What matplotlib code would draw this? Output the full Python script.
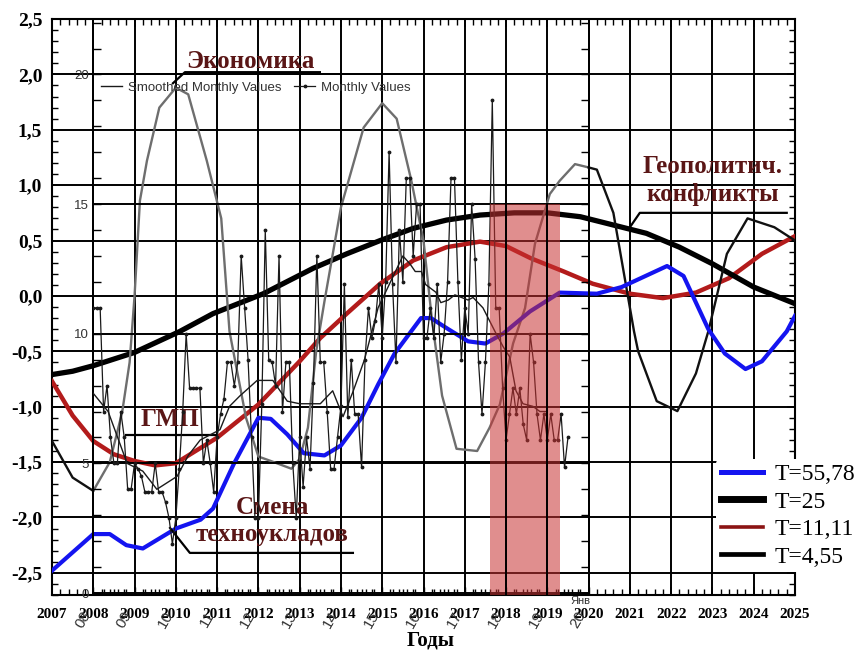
import numpy as np
import matplotlib.pyplot as plt
from matplotlib.lines import Line2D
from matplotlib.ticker import MultipleLocator, FuncFormatter

SERIF = ["Liberation Serif", "DejaVu Serif"]
SANS_N = ["Liberation Sans Narrow", "Liberation Sans", "DejaVu Sans"]
ANN_COLOR = "#5a1616"

# --- Daten: Zyklen (Jahr, Wert) ---
T55_YEARS = [2007.0, 2008.0, 2008.4, 2008.8, 2009.2, 2010.0, 2010.6, 2010.9, 2011.4,
             2012.0, 2012.3, 2012.7, 2013.1, 2013.6, 2014.0, 2014.5, 2014.9, 2015.3,
             2015.94, 2016.18, 2016.6, 2017.08, 2017.5, 2017.93, 2018.58, 2019.3,
             2020.2, 2020.8, 2021.9, 2022.3, 2022.9, 2023.3, 2023.8, 2024.2, 2024.8, 2025.0]
T55_VALUES = [-2.48, -2.15, -2.15, -2.25, -2.28, -2.1, -2.02, -1.92, -1.52,
              -1.1, -1.11, -1.25, -1.42, -1.44, -1.35, -1.1, -0.8, -0.52,
              -0.2, -0.2, -0.3, -0.41, -0.43, -0.34, -0.14, 0.03,
              0.02, 0.08, 0.27, 0.18, -0.3, -0.52, -0.66, -0.59, -0.32, -0.18]

T25_YEARS = [2007.0, 2007.5, 2008.0, 2009.0, 2010.1, 2010.9, 2012.12, 2013.33, 2014.14,
             2014.95, 2015.75, 2016.56, 2017.37, 2018.2, 2019.0, 2019.8, 2020.6, 2021.4,
             2022.2, 2023.0, 2024.0, 2025.0]
T25_VALUES = [-0.71, -0.68, -0.63, -0.51, -0.32, -0.16, 0.02, 0.25, 0.38,
              0.50, 0.61, 0.685, 0.73, 0.75, 0.75, 0.715, 0.64, 0.565,
              0.44, 0.29, 0.08, -0.07]

T11_YEARS = [2007.0, 2007.5, 2008.0, 2008.5, 2009.0, 2009.5, 2010.0, 2011.0, 2012.0,
             2013.0, 2013.5, 2014.14, 2014.95, 2015.75, 2016.56, 2017.37, 2018.0, 2018.6,
             2019.4, 2020.1, 2021.0, 2021.8, 2022.6, 2023.4, 2024.2, 2025.0]
T11_VALUES = [-0.77, -1.08, -1.31, -1.43, -1.49, -1.53, -1.51, -1.28, -0.98,
              -0.59, -0.38, -0.16, 0.11, 0.32, 0.44, 0.49, 0.45, 0.34,
              0.22, 0.11, 0.02, -0.02, 0.03, 0.16, 0.38, 0.54]

T4_YEARS = [2007.0, 2007.5, 2008.0, 2008.4, 2008.7, 2008.88, 2009.0, 2009.13, 2009.3,
            2009.6, 2010.0, 2010.3, 2010.75, 2011.1, 2011.3, 2011.7, 2012.0, 2012.3,
            2012.8, 2013.0, 2013.2, 2013.4, 2013.6, 2014.0, 2014.1, 2014.55, 2015.0,
            2015.35, 2015.7, 2016.0, 2016.2, 2016.45, 2016.8, 2017.3, 2017.6, 2017.85,
            2018.17, 2018.46, 2018.7, 2019.06, 2019.3, 2019.67, 2020.0, 2020.2, 2020.6,
            2021.1, 2021.2, 2021.65, 2022.15, 2022.6, 2022.9, 2023.35, 2023.85, 2024.5,
            2025.0]
T4_VALUES = [-1.31, -1.64, -1.76, -1.5, -1.05, -0.6, 0.0, 0.86, 1.22,
             1.7, 1.88, 1.82, 1.22, 0.7, -0.32, -1.1, -1.45, -1.49,
             -1.56, -1.47, -1.19, -0.5, -0.05, 0.8, 0.93, 1.52, 1.74,
             1.6, 1.05, 0.5, -0.2, -0.9, -1.38, -1.4, -1.19, -0.98,
             -0.43, -0.11, 0.47, 0.92, 1.04, 1.19, 1.16, 1.14, 0.75,
             -0.32, -0.5, -0.95, -1.04, -0.7, -0.32, 0.38, 0.7, 0.62,
             0.5]

LABELS = ["T=55,78", "T=25", "T=11,11", "T=4,55"]

# --- Daten: eingefügter Chart (Monatswerte ab Jan 2008) ---
MONTHLY = [
    11, 11, 11, 7, 8, 6, 5, 5, 7, 6, 4, 4,                       # 2008
    5, 4.8, 4.5, 3.9, 3.9, 3.9, 5, 3.9, 3.9, 3.5, 2.9, 1.9,      # 2009
    2.9, 4.8, 7, 10, 7.9, 7.9, 7.9, 7.9, 5, 5.9, 5, 3.9,         # 2010
    6, 6.9, 7.5, 8.9, 8.9, 8, 8.9, 13, 11, 9, 6, 2.9,            # 2011
    2.9, 7.3, 14, 9, 8.9, 8, 13, 7, 8.9, 8.9, 5, 2.9,            # 2012
    6, 4.1, 6, 4.8, 8.1, 13, 8.9, 8.9, 7, 4.8, 4.8, 6,           # 2013
    7.2, 11.9, 6.8, 9, 6.9, 6.9, 4.85, 9, 11, 9.85, 10.5, 11.9,  # 2014
    9.85, 12, 17, 11.9, 8.9, 14, 12, 16, 16, 13, 15, 15,         # 2015
    9.85, 9.85, 11, 9.85, 11.9, 8.9, 10, 12, 16, 16, 12, 9,      # 2016
    11, 10, 15, 12.9, 8.9, 6.9, 8.9, 11.9, 19, 11, 11, 7.9,      # 2017
    5.9, 6.9, 7.9, 6.9, 7.9, 6.5, 5.9, 10, 8.9, 6.9, 5.9, 6.9,   # 2018
    5.9, 6.9, 5.9, 5.9, 6.9, 4.85, 6,                            # 2019
]
SMOOTH_YEARS = [2008.0, 2008.36, 2008.82, 2009.2, 2009.54, 2010.03, 2010.3, 2010.59,
                2011.07, 2011.3, 2011.55, 2011.97, 2012.35, 2012.7, 2013.0, 2013.5,
                2013.8, 2014.05, 2014.3, 2014.57, 2014.9, 2015.2, 2015.5, 2015.67,
                2015.8, 2015.95, 2016.05, 2016.3, 2016.42, 2016.6, 2016.76, 2017.08,
                2017.2, 2017.44, 2017.76, 2017.93, 2018.09, 2018.24, 2018.41, 2018.65,
                2018.82, 2018.97]
SMOOTH_VALUES = [7.7, 7.0, 5.0, 4.7, 4.0, 4.5, 5.3, 5.9,
                 6.3, 7.2, 7.6, 8.2, 8.2, 7.4, 7.3, 7.3,
                 7.8, 6.8, 7.8, 9.0, 11.0, 12.0, 13.0, 12.7,
                 12.4, 12.4, 11.9, 11.6, 11.2, 11.3, 11.5, 11.3,
                 11.4, 11.0, 10.0, 9.5, 9.1, 7.8, 7.3, 7.2,
                 7.0, 7.0]
CRISIS = (2017.6, 2019.3)   # rosa Zeitraum
CRISIS_TOP = 15             # in Einheiten des eingefügten Charts

YEARS = list(range(2007, 2026))
INNER_YEARS = list(range(2008, 2021))
INNER_TICKLABELS = [f"{y % 100:02d}" for y in INNER_YEARS]

# --- Figur ---
fig = plt.figure(figsize=(8.58, 6.57), dpi=100)
L, R, T, B = 52 / 858, 795 / 858, 1 - 19 / 657, 1 - 595 / 657
ax = fig.add_axes([L, B, R - L, T - B])
ax.set_xlim(YEARS[0], YEARS[-1])
ax.set_ylim(-2.7, 2.5)

ax.xaxis.set_major_locator(MultipleLocator(1))
ax.xaxis.set_minor_locator(MultipleLocator(0.2))
ax.yaxis.set_major_locator(MultipleLocator(0.5))
ax.yaxis.set_minor_locator(MultipleLocator(0.1))
ax.yaxis.set_major_formatter(FuncFormatter(lambda v, p: f"{v:.1f}".replace(".", ",")))
ax.xaxis.set_major_formatter(FuncFormatter(lambda v, p: f"{int(round(v))}"))
ax.grid(True, which="major", color="black", lw=1.4)
ax.tick_params(which="both", direction="in", top=True, right=True, color="black")
ax.tick_params(which="major", length=6, width=1.2)
ax.tick_params(which="minor", length=4, width=1.0)
ax.tick_params(axis="y", pad=7)
ax.tick_params(axis="x", pad=9)
for lab in ax.get_yticklabels():
    lab.set_fontfamily(SERIF); lab.set_fontweight("bold"); lab.set_fontsize(14)
for lab in ax.get_xticklabels():
    lab.set_fontfamily(SERIF); lab.set_fontweight("bold"); lab.set_fontsize(11)
for sp in ax.spines.values():
    sp.set_linewidth(1.5)

ax.plot(T55_YEARS, T55_VALUES, color="#1414f0", lw=3.0, zorder=4)
ax.plot(T11_YEARS, T11_VALUES, color="#b31b1b", lw=3.2, zorder=3)
ax.plot(T25_YEARS, T25_VALUES, color="black", lw=3.8, zorder=3)

t4x, t4y = np.array(T4_YEARS), np.array(T4_VALUES)
inside = (t4x >= INNER_YEARS[0]) & (t4x <= INNER_YEARS[-1])
ax.plot(t4x[t4x <= INNER_YEARS[0]], t4y[t4x <= INNER_YEARS[0]], color="#111111", lw=1.7, zorder=3)
ax.plot(t4x[inside], t4y[inside], color="#6e6e6e", lw=1.7, zorder=3)
ax.plot(t4x[t4x >= INNER_YEARS[-1]], t4y[t4x >= INNER_YEARS[-1]], color="#111111", lw=1.7, zorder=3)

ax.set_xlabel("Годы", fontfamily=SERIF, fontweight="bold", fontsize=15)
ax.xaxis.set_label_coords(0.509, -0.062)

# --- Beschriftungen ---
ann = dict(fontfamily=SERIF, fontweight="bold", fontsize=18, color=ANN_COLOR,
           ha="center", va="center", zorder=6, linespacing=1.25)
ax.text(2011.8, 2.12, "Экономика", **ann)
ax.plot([2009.93, 2010.22, 2013.49], [1.92, 2.02, 2.02], color="black", lw=1.6, zorder=6)
ax.text(2023.0, 1.04, "Геополитич.\nконфликты", **ann)
ax.plot([2021.0, 2021.24, 2024.8], [0.62, 0.75, 0.75], color="black", lw=1.6, zorder=6)
ax.text(2009.86, -1.12, "ГМП", **ann)
ax.plot([2008.79, 2010.97], [-1.256, -1.256], color="black", lw=1.6, zorder=6)
ax.text(2012.33, -2.03, "Смена\nтехноукладов", **ann)
ax.plot([2009.86, 2010.34, 2014.29], [-2.095, -2.32, -2.32], color="black", lw=1.6, zorder=6)

# --- eingefügter Chart ---
wi = (R - L) * (INNER_YEARS[-1] - INNER_YEARS[0]) / (YEARS[-1] - YEARS[0])
li = L + (R - L) * (INNER_YEARS[0] - YEARS[0]) / (YEARS[-1] - YEARS[0])
axi = fig.add_axes([li, B, wi, T - B])
axi.patch.set_visible(False)
axi.set_xlim(INNER_YEARS[0], INNER_YEARS[-1])
axi.set_ylim(-0.077, 22.14)
axi.spines["top"].set_visible(False)
for sp in ("left", "right", "bottom"):
    axi.spines[sp].set_linewidth(1.4)
axi.set_xticks(INNER_YEARS, labels=INNER_TICKLABELS, rotation=60, ha="right")
axi.xaxis.set_minor_locator(MultipleLocator(0.25))
axi.set_yticks([0, 5, 10, 15, 20])
axi.yaxis.set_minor_locator(MultipleLocator(1))
axi.grid(True, axis="y", which="major", color="black", lw=1.4)
axi.tick_params(which="both", direction="in", right=True, top=False, length=6, width=1.0,
                labelcolor="#333333", pad=3)
axi.tick_params(axis="x", which="minor", length=4)
axi.tick_params(axis="x", pad=10)
for lab in axi.get_xticklabels():
    lab.set_fontfamily(SANS_N); lab.set_fontsize(11)
for lab in axi.get_yticklabels():
    lab.set_fontfamily(SANS_N); lab.set_fontsize(9.5)

months = INNER_YEARS[0] + np.arange(len(MONTHLY)) / 12
l_sm, = axi.plot(SMOOTH_YEARS, SMOOTH_VALUES, color="#1a1a1a", lw=1.0, zorder=3,
                 label="Smoothed Monthly Values")
l_mo, = axi.plot(months, MONTHLY, color="#1a1a1a", lw=0.9, marker=".", ms=3.5, zorder=3,
                 label="Monthly Values")
axi.legend(handles=[l_sm, l_mo], loc="upper left", ncol=2, frameon=False,
           bbox_to_anchor=(96 / 858, 1 - 76 / 657), bbox_transform=fig.transFigure,
           prop=dict(family=SANS_N, size=9.5), labelcolor="#333333",
           handlelength=1.6, handletextpad=0.4, columnspacing=1.0, borderaxespad=0)

ylo = axi.get_ylim()[0]
axi.fill_between(list(CRISIS), ylo, CRISIS_TOP, color="#c83232", alpha=0.55, lw=0, zorder=10)
for yr in YEARS:
    if CRISIS[0] < yr < CRISIS[1]:
        axi.plot([yr, yr], [ylo, CRISIS_TOP], color="black", lw=1.4, zorder=11)

axi.text(2019.79, -0.011, "Янв", transform=axi.get_xaxis_transform(), fontfamily=SANS_N,
         fontsize=8, color="#333333", ha="center", va="center", zorder=12)

# --- Legende ---
handles = [
    Line2D([], [], color="#1414f0", lw=3.6),
    Line2D([], [], color="black", lw=5.0),
    Line2D([], [], color="#8b1414", lw=2.6),
    Line2D([], [], color="black", lw=3.4),
]
fig.legend(handles, LABELS, loc="upper left", bbox_to_anchor=(716 / 858, 1 - 459 / 657),
           frameon=True, facecolor="white", edgecolor="none", framealpha=1,
           prop=dict(family=SERIF, size=17), handlelength=1.8, handletextpad=0.5,
           labelspacing=0.25, borderpad=0.2, borderaxespad=0)

fig.savefig("out.png", dpi=100)
